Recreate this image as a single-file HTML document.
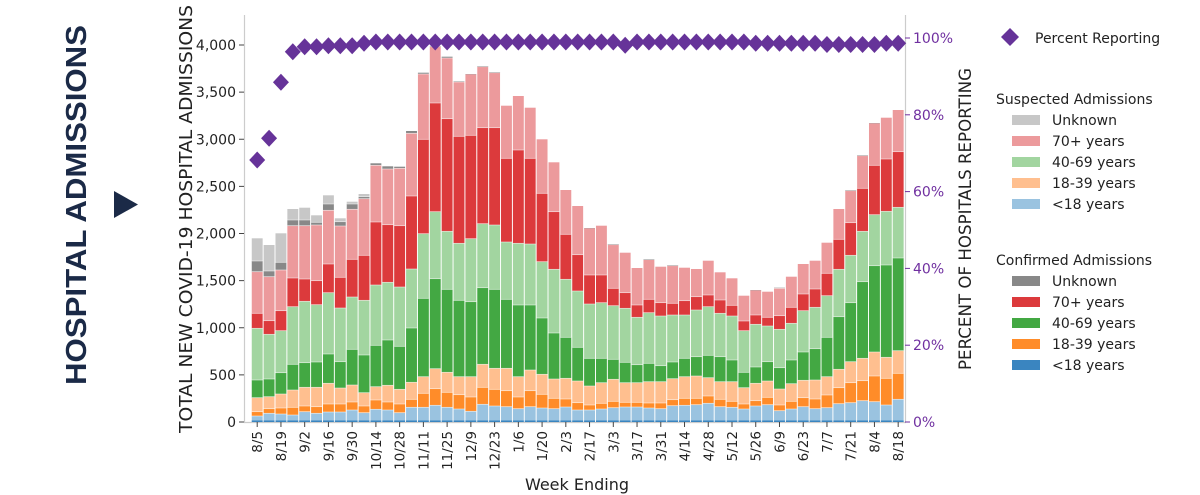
<!DOCTYPE html>
<html><head><meta charset="utf-8"><style>
html,body{margin:0;padding:0;background:#fff;width:1200px;height:495px;overflow:hidden}
text{font-family:"DejaVu Sans","Liberation Sans",sans-serif}
</style></head><body>
<svg id="s" width="1200" height="495" viewBox="0 0 1200 495" xmlns="http://www.w3.org/2000/svg">
<text x="0" y="0" transform="translate(86,205) rotate(-90)" text-anchor="middle" font-family="Liberation Sans, sans-serif" font-weight="bold" font-size="29" fill="#1b2a47" textLength="360" lengthAdjust="spacingAndGlyphs" style="font-family:'Liberation Sans',sans-serif">HOSPITAL ADMISSIONS</text>
<polygon points="114,191 138,204.5 114,218" fill="#1b2a47"/>
<text transform="translate(192,219) rotate(-90)" text-anchor="middle" font-size="17.5" fill="#222" textLength="428" lengthAdjust="spacingAndGlyphs">TOTAL NEW COVID-19 HOSPITAL ADMISSIONS</text>
<text transform="translate(971,219) rotate(-90)" text-anchor="middle" font-size="16.5" fill="#222" textLength="302" lengthAdjust="spacingAndGlyphs">PERCENT OF HOSPITALS REPORTING</text>
<text x="577" y="490" text-anchor="middle" font-size="16" fill="#222">Week Ending</text>
<line x1="244.5" y1="15" x2="244.5" y2="422" stroke="#ccc" stroke-width="1.2"/>
<line x1="905.5" y1="15" x2="905.5" y2="422" stroke="#ccc" stroke-width="1.2"/>
<line x1="244" y1="422.5" x2="906" y2="422.5" stroke="#ccc" stroke-width="1.2"/>
<g id="bars"></g><g id="ax"></g><g id="dia"></g>
<g font-size="14" fill="#222">
<polygon points="1010,28 1019,37 1010,46 1001,37" fill="#663399"/>
<text x="1035" y="43">Percent Reporting</text>
<text x="996" y="104">Suspected Admissions</text>
<rect x="1012" y="115" width="28" height="10" fill="#c7c7c7"/><text x="1052" y="125">Unknown</text>
<rect x="1012" y="136" width="28" height="10" fill="#ec9a9c"/><text x="1052" y="146">70+ years</text>
<rect x="1012" y="157" width="28" height="10" fill="#a2d5a0"/><text x="1052" y="167">40-69 years</text>
<rect x="1012" y="178" width="28" height="10" fill="#ffbf8f"/><text x="1052" y="188">18-39 years</text>
<rect x="1012" y="199" width="28" height="10" fill="#9ac3e0"/><text x="1052" y="209">&lt;18 years</text>
<text x="996" y="265">Confirmed Admissions</text>
<rect x="1012" y="276" width="28" height="10" fill="#888888"/><text x="1052" y="286">Unknown</text>
<rect x="1012" y="297" width="28" height="10" fill="#dc3a3c"/><text x="1052" y="307">70+ years</text>
<rect x="1012" y="318" width="28" height="10" fill="#43a843"/><text x="1052" y="328">40-69 years</text>
<rect x="1012" y="339" width="28" height="10" fill="#ff8c29"/><text x="1052" y="349">18-39 years</text>
<rect x="1012" y="360" width="28" height="10" fill="#3a85c0"/><text x="1052" y="370">&lt;18 years</text>
</g>
</svg>
<script>
var NS="http://www.w3.org/2000/svg";
function el(p,t,a,txt){var e=document.createElementNS(NS,t);for(var k in a)e.setAttribute(k,a[k]);if(txt!=null)e.textContent=txt;p.appendChild(e);return e;}
// tops: lblue, orange, lorange, green, lgreen, red, pink, dgray, lgray
var D=[
[416,411.7,397.7,380,328.3,313.3,271.7,261,238.3],
[413.3,408.7,396.7,379,334.3,320.7,276.7,271,245],
[414,408,394,372.7,330.7,310.7,270,262.3,233.3],
[415,407.3,390,364.3,306.7,278,225.7,220,209],
[411.7,406,387.3,362.7,301.3,279,225.7,220,207.7],
[413.3,406.7,387.3,362,304.7,280.7,225,222.3,215.3],
[412,404,383.3,354,292.7,264,210.3,204,195.3],
[412,404,388,361.7,308,277.3,226,221.7,218.3],
[410,402,385,349.3,297,259.3,209.3,204,201.7],
[412.7,406,392.7,355,300.3,255.3,198.7,196.7,194],
[409.3,400,386.7,345.3,285,222,165.3,163.3,163.3],
[410,402,385.3,340,282.3,224.7,169,166.3,166.3],
[412.7,404,389.3,346.3,287,225.7,168.3,166.7,166.7],
[407.3,399.3,382.3,328,269,196,133.3,131,131],
[407.3,393.3,376.7,298.3,233.7,139.3,74,72.7,72.7],
[405.3,388.7,368.7,278.7,211.7,103,46.7,46,46],
[407.3,392.3,372.3,289.3,231.3,118.7,58,56.7,56.7],
[409,394.7,376.7,300.3,243.3,136.3,82,81.3,81.3],
[411.3,397,376.7,301.7,238.7,135.3,74.3,74,74],
[404.3,387.3,364.3,287.7,223.7,127.7,66.7,66,66],
[406,389.3,368.3,289.3,225,127.7,72.7,72,72],
[406.7,390.7,368.3,299.3,242,158.3,105.7,105.7,105.7],
[408.7,397,376.7,305,243.3,150,96,96,96],
[406.7,390.7,370,305,244,158.3,107.7,107.7,107.7],
[408,394.3,374.3,318,261.7,193.3,139.3,139.3,139.3],
[408.7,398.3,379,333,269.3,211.7,162.3,162.3,162.3],
[407,399,378.3,337.3,279.3,234.3,190,190,190],
[410,402.7,381,347.3,291,254.7,206,206,206],
[410,405,386,358.3,304,275,228.3,228,228],
[409,403.3,382.7,358.3,302.7,275,225.7,225.7,225.7],
[407.7,401.3,379.3,359.3,305.7,288.3,244.7,244,244],
[407,402.3,382.7,362.3,308.3,292.7,252.7,252.7,252.7],
[407,402.3,382.7,364.7,317.3,305,268,268,268],
[408,403,381.7,363.3,312.7,299.3,260,259.5,259.5],
[408.7,403,381.7,365.7,316,302.7,266.7,266.7,266.7],
[405.7,399.7,378.7,362,315,303.3,265.7,265,265],
[405.3,398.3,376.7,358.3,315,300.7,267.7,267.7,267.7],
[404.7,398.3,376,356.7,310,296.7,269,269,269],
[403.3,396,377.7,355.3,306.7,295,260.7,260.7,260.7],
[406.7,399.3,381.7,356.7,313.3,300,272.3,272.3,272.3],
[407.3,401.3,381.7,360,316,305.3,278.3,278.3,278.3],
[409,404,387.7,372.3,330.7,321,295.7,295.7,295.7],
[406,400.7,383.3,367,324.3,315,290.3,290,290],
[404.7,397.3,381,361.7,326,317.3,291.7,291.7,291.7],
[410.7,405,389,367.7,329.3,315.7,288.3,287.7,287.7],
[409,401.3,383.7,360,323.3,307.3,276.7,276.7,276.7],
[406.7,397.7,380.3,352,310.7,294,264,264,264],
[408.7,399,380,348.7,307.3,289,260.7,260.7,260.7],
[407.7,395,376.7,337.3,295.7,273.3,242.7,242.7,242.7],
[403.7,387.7,369.3,316.7,269.3,239.3,209,209,209],
[402.7,382.7,361.7,302.7,255.3,222.7,190.7,190,190],
[400.7,380.7,358.3,281.7,231.3,188.3,155.7,155,155],
[401.7,376,352,265.7,214.7,165.3,123.3,123,123],
[405,378.3,357.3,265,211.3,159,117.7,117.7,117.7],
[399.3,373.3,350.7,258,207.3,151.7,110,110,110]];
var C=["#9ac3e0","#ff8c29","#ffbf8f","#43a843","#a2d5a0","#dc3a3c","#ec9a9c","#888888","#c7c7c7"];
var g=document.getElementById("bars"),ax=document.getElementById("ax"),dg=document.getElementById("dia");
var step=11.87,x0=257.2,bw=10.9;
for(var i=0;i<D.length;i++){var cx=x0+i*step,prev=422;
 for(var j=0;j<9;j++){var t=D[i][j];if(prev-t>0.2)el(g,"rect",{x:(cx-bw/2).toFixed(2),y:t,width:bw,height:(prev-t).toFixed(2),fill:C[j]});prev=t;}
 if(i%2==0||i==54){}
}
// white separators between segments horizontally
for(var i=0;i<D.length;i++){var cx=x0+i*step;
 for(var j=0;j<8;j++){var t=D[i][j];if(D[i][j]-D[i][j+1]>0.5)el(g,"line",{x1:cx-bw/2,x2:cx+bw/2,y1:t,y2:t,stroke:"#fff","stroke-width":0.7,"stroke-opacity":0.7});}
 el(g,"rect",{x:cx-bw/2,y:420.5,width:bw,height:1.5,fill:"#3a85c0"});
}
var labs=["8/5","8/19","9/2","9/16","9/30","10/14","10/28","11/11","11/25","12/9","12/23","1/6","1/20","2/3","2/17","3/3","3/17","3/31","4/14","4/28","5/12","5/26","6/9","6/23","7/7","7/21","8/4","8/18"];
for(var k=0;k<labs.length;k++){var i=(k==27)?54:k*2;var cx=x0+i*step;
 el(ax,"line",{x1:cx,x2:cx,y1:422,y2:427,stroke:"#444","stroke-width":1});
 el(ax,"text",{transform:"translate("+(cx+5)+",431) rotate(-90)","text-anchor":"end","font-size":"13.5",fill:"#222"},labs[k]);}
for(var v=0;v<=8;v++){var y=422-v*500*0.09425;
 el(ax,"line",{x1:239,x2:244,y1:y,y2:y,stroke:"#444","stroke-width":1});
 el(ax,"text",{x:236,y:y+5,"text-anchor":"end","font-size":"14",fill:"#222"},v==0?"0":(v*500).toLocaleString("en-US"));}
for(var p=0;p<=5;p++){var y=422-p*76.8;
 el(ax,"line",{x1:905,x2:910,y1:y,y2:y,stroke:"#7030a0","stroke-width":1});
 el(ax,"text",{x:913,y:y+5,"font-size":"14",fill:"#7030a0"},(p*20)+"%");}
var P=[160,138.3,82.3,51.7,46.7,46.7,45.7,45.7,45.7,43.3,42,42,42,42];
for(var i=14;i<55;i++)P.push(i==31?45.3:(i>=48&&i<=52?44.5:(i>=42?43.3:42)));
for(var i=0;i<55;i++){var cx=x0+i*step,y=P[i];
 el(dg,"polygon",{points:(cx)+","+(y-8.5)+" "+(cx+8)+","+y+" "+cx+","+(y+8.5)+" "+(cx-8)+","+y,fill:"#663399"});}
</script>
</body></html>
